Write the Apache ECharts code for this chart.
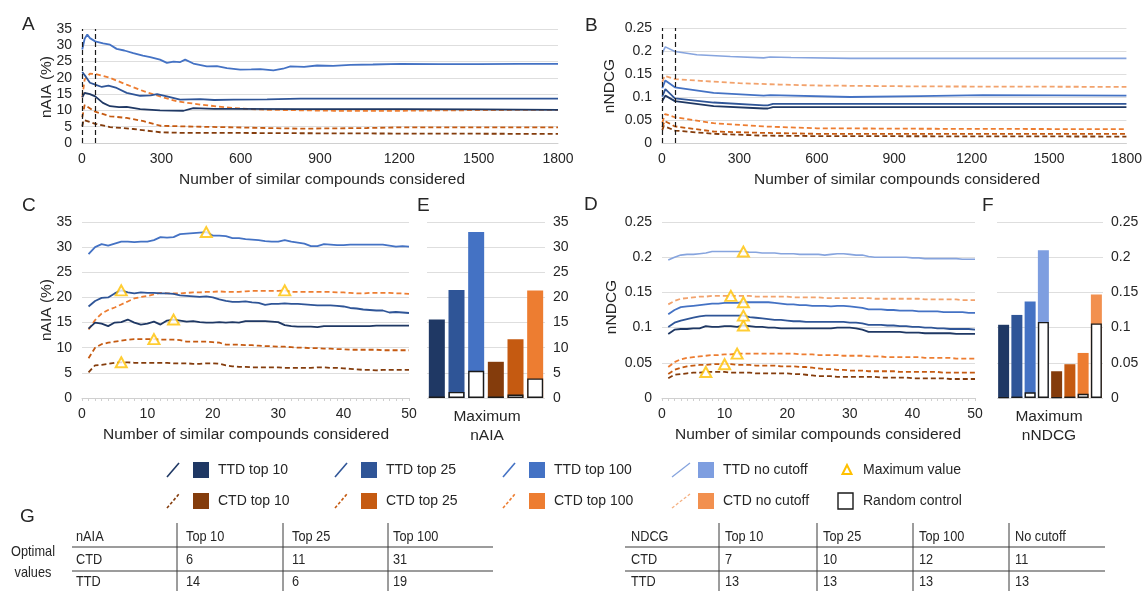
<!DOCTYPE html>
<html><head><meta charset="utf-8">
<script src="https://cdn.jsdelivr.net/npm/echarts@6/dist/echarts.min.js"></script>
<style>html,body{margin:0;padding:0;background:#fff}#c{width:1145px;height:591px}</style>
</head><body><div id="c"></div>
<script>
// ---------------- DATA ----------------
// Panel A: nAIA (%) vs number of similar compounds (0-1800), [x, y] pairs
const aTTD100 = [[1,28.7],[10,32.0],[20,33.3],[30,32.2],[50,31.2],[80,30.6],[106,30.2],[131,28.9],[160,28.4],[194,27.6],[230,26.8],[258,26.4],[295,25.6],[321,24.6],[346,25.0],[370,24.8],[390,25.6],[421,24.4],[472,23.5],[510,23.6],[548,23.0],[598,22.5],[640,22.6],[674,22.7],[724,22.3],[760,22.8],[788,23.5],[840,23.4],[889,23.8],[950,23.7],[1015,24.0],[1100,24.1],[1205,24.3],[1350,24.2],[1500,24.2],[1650,24.3],[1800,24.3]];
const aTTD25 = [[1,21.8],[15,20.3],[30,18.5],[50,17.9],[75,17.2],[100,17.6],[131,16.9],[169,15.4],[220,14.5],[260,14.6],[284,15.0],[321,14.3],[371,13.3],[410,13.4],[447,13.5],[500,13.2],[573,13.3],[700,13.4],[826,13.6],[1000,13.6],[1200,13.6],[1500,13.6],[1800,13.6]];
const aTTD10 = [[1,14.0],[10,15.4],[30,15.0],[50,14.3],[79,12.3],[106,11.3],[140,11.0],[169,11.1],[220,10.4],[295,10.0],[384,9.9],[421,10.7],[500,10.5],[573,10.5],[826,10.4],[1205,10.4],[1500,10.3],[1800,10.2]];
const aCTD100 = [[1,14.0],[10,19.5],[30,21.3],[50,21.2],[106,20.0],[169,17.9],[233,15.9],[295,14.3],[358,12.8],[447,11.8],[573,10.7],[699,10.2],[952,9.9],[1205,9.9],[1500,10.1],[1800,10.2]];
const aCTD25 = [[1,7.9],[10,11.7],[50,9.6],[106,8.2],[169,7.7],[233,6.7],[295,5.3],[384,5.1],[573,4.8],[826,4.4],[1078,4.6],[1205,4.8],[1500,4.8],[1800,4.8]];
const aCTD10 = [[1,5.1],[6,7.1],[50,5.9],[106,4.9],[194,4.3],[295,3.3],[384,3.1],[573,3.1],[826,3.0],[1205,2.9],[1800,2.8]];

// Panel B: nNDCG vs number of similar compounds (0-1800)
const bTTDnc = [[1,0.196],[13,0.209],[50,0.199],[135,0.192],[265,0.188],[394,0.185],[400,0.183],[419,0.187],[500,0.186],[729,0.184],[1000,0.184],[1400,0.184],[1800,0.184]];
const bCTDnc = [[1,0.133],[11,0.146],[50,0.139],[150,0.135],[300,0.130],[457,0.127],[600,0.125],[1000,0.123],[1800,0.122]];
const bTTD100 = [[1,0.119],[13,0.136],[50,0.121],[200,0.109],[394,0.103],[400,0.101],[420,0.104],[729,0.100],[1000,0.102],[1243,0.104],[1800,0.103]];
const bTTD25 = [[1,0.101],[13,0.117],[50,0.097],[200,0.088],[394,0.082],[410,0.082],[430,0.085],[700,0.085],[1000,0.085],[1800,0.085]];
const bTTD10 = [[1,0.091],[13,0.103],[50,0.091],[200,0.080],[394,0.075],[410,0.075],[430,0.078],[700,0.078],[1000,0.078],[1800,0.078]];
const bCTD100 = [[1,0.044],[12,0.063],[50,0.056],[200,0.043],[394,0.036],[600,0.032],[1000,0.031],[1800,0.030]];
const bCTD25 = [[1,0.034],[10,0.048],[50,0.036],[200,0.025],[394,0.022],[600,0.020],[1800,0.020]];
const bCTD10 = [[1,0.028],[7,0.037],[50,0.027],[200,0.020],[394,0.016],[600,0.015],[1800,0.014]];
const dashedMarks = [1, 50];

// Panels C and D: first 50 similar compounds
const steps = [1,2,3,4,5,6,7,8,9,10,11,12,13,14,15,16,17,18,19,20,21,22,23,24,25,26,27,28,29,30,31,32,33,34,35,36,37,38,39,40,41,42,43,44,45,46,47,48,49,50];
const cTTD100 = [28.6,30.0,30.6,30.3,30.7,31.1,31.1,31.0,31.1,31.1,31.4,32.0,31.9,32.0,32.6,32.7,32.8,32.9,33.0,32.3,32.3,32.2,31.8,31.8,31.6,31.5,31.4,31.2,31.1,31.1,31.4,31.1,30.9,30.7,30.2,30.2,30.6,30.5,30.4,30.4,30.5,30.5,30.5,30.5,30.5,30.5,30.3,30.1,30.2,30.1];
const cTTD25 = [18.2,19.3,19.9,20.0,20.8,21.4,21.0,20.8,21.0,20.9,20.9,20.8,20.8,20.7,20.4,20.3,20.2,20.1,20.2,20.0,19.6,19.3,19.1,19.1,19.2,19.0,18.9,18.5,18.7,18.7,18.8,18.7,18.7,18.6,18.5,18.4,18.4,18.4,18.3,18.2,17.9,17.8,17.6,17.5,17.4,17.4,17.0,17.1,17.0,16.9];
const cTTD10 = [13.8,15.0,14.8,14.3,15.0,15.1,15.6,15.0,14.6,14.8,15.2,14.6,15.4,15.6,15.4,15.2,15.3,15.1,15.0,15.0,15.1,15.0,15.1,15.0,15.3,15.3,15.3,15.3,15.2,15.1,14.5,14.3,14.2,14.2,14.2,14.1,14.3,14.3,14.3,14.3,14.3,14.3,14.3,14.3,14.4,14.4,14.4,14.4,14.4,14.4];
const cCTD100 = [13.6,15.5,16.8,17.5,18.0,18.6,19.2,19.8,20.1,20.3,20.6,20.9,20.8,20.8,20.8,20.9,21.0,21.0,21.1,21.1,21.2,21.1,21.1,21.1,21.2,21.3,21.3,21.3,21.3,21.3,21.4,21.1,21.1,21.1,21.1,21.1,21.1,21.1,21.0,21.0,20.9,20.8,20.8,20.9,20.9,20.9,20.9,20.8,20.8,20.7];
const cCTD25 = [7.9,10.0,10.7,11.0,11.2,11.4,11.6,11.7,11.7,11.7,11.7,11.6,11.6,11.6,11.5,11.2,11.2,11.2,11.2,11.1,11.0,10.6,10.6,10.6,10.5,10.5,10.4,10.3,10.3,10.2,10.2,10.1,10.0,10.0,9.9,9.9,9.8,9.8,9.7,9.7,9.6,9.6,9.6,9.6,9.6,9.5,9.5,9.5,9.5,9.5];
const cCTD10 = [5.1,6.5,6.6,6.8,7.0,7.1,7.1,7.0,7.0,7.0,7.0,7.0,7.0,6.9,6.9,6.9,6.8,6.8,6.9,6.9,6.8,6.5,6.3,6.2,6.2,6.1,6.1,6.1,6.1,6.1,6.0,6.0,6.0,6.0,6.0,6.1,6.1,6.0,6.0,5.9,5.8,5.7,5.6,5.6,5.5,5.6,5.6,5.6,5.6,5.6];
const cMaxima = [[14,15.6],[6,21.4],[19,33.0],[6,7.1],[11,11.7],[31,21.4]];

const dTTDnc = [0.196,0.200,0.203,0.204,0.204,0.205,0.206,0.208,0.208,0.208,0.208,0.208,0.208,0.207,0.207,0.206,0.206,0.206,0.205,0.205,0.205,0.204,0.204,0.204,0.204,0.203,0.204,0.205,0.205,0.204,0.203,0.203,0.201,0.200,0.200,0.200,0.200,0.200,0.200,0.199,0.199,0.198,0.198,0.198,0.198,0.198,0.198,0.197,0.197,0.197];
const dCTDnc = [0.133,0.138,0.141,0.142,0.143,0.144,0.144,0.145,0.145,0.145,0.145,0.145,0.145,0.145,0.144,0.144,0.144,0.144,0.144,0.144,0.143,0.143,0.143,0.143,0.143,0.142,0.142,0.142,0.142,0.142,0.142,0.142,0.142,0.141,0.141,0.141,0.141,0.141,0.141,0.141,0.141,0.140,0.140,0.140,0.140,0.140,0.140,0.139,0.139,0.139];
const dTTD100 = [0.119,0.125,0.129,0.130,0.131,0.132,0.133,0.134,0.134,0.135,0.135,0.135,0.136,0.136,0.136,0.136,0.136,0.135,0.134,0.133,0.133,0.132,0.132,0.131,0.131,0.131,0.130,0.131,0.131,0.130,0.129,0.128,0.126,0.126,0.126,0.125,0.125,0.124,0.124,0.124,0.123,0.123,0.123,0.123,0.122,0.122,0.122,0.122,0.121,0.121];
const dTTD25 = [0.101,0.107,0.110,0.112,0.114,0.116,0.117,0.117,0.117,0.117,0.117,0.117,0.117,0.115,0.114,0.113,0.112,0.111,0.111,0.110,0.109,0.109,0.108,0.108,0.108,0.108,0.108,0.108,0.108,0.107,0.107,0.106,0.104,0.104,0.104,0.103,0.103,0.102,0.102,0.101,0.101,0.100,0.100,0.099,0.099,0.098,0.098,0.098,0.098,0.097];
const dTTD10 = [0.091,0.097,0.098,0.098,0.099,0.099,0.102,0.101,0.101,0.102,0.102,0.101,0.103,0.102,0.101,0.101,0.100,0.100,0.099,0.099,0.099,0.099,0.099,0.099,0.099,0.099,0.099,0.100,0.100,0.100,0.099,0.097,0.094,0.094,0.094,0.094,0.094,0.094,0.093,0.093,0.093,0.092,0.092,0.092,0.092,0.092,0.091,0.091,0.091,0.091];
const dCTD100 = [0.044,0.051,0.055,0.057,0.058,0.059,0.060,0.061,0.061,0.062,0.062,0.063,0.063,0.063,0.063,0.063,0.063,0.063,0.063,0.063,0.063,0.062,0.062,0.062,0.061,0.061,0.061,0.061,0.060,0.060,0.060,0.060,0.059,0.059,0.059,0.058,0.058,0.058,0.058,0.058,0.058,0.057,0.057,0.057,0.057,0.057,0.056,0.056,0.056,0.056];
const dCTD25 = [0.034,0.040,0.043,0.045,0.046,0.047,0.047,0.048,0.048,0.048,0.048,0.047,0.047,0.047,0.046,0.046,0.046,0.046,0.045,0.045,0.045,0.044,0.044,0.043,0.042,0.041,0.041,0.040,0.040,0.039,0.039,0.039,0.038,0.038,0.038,0.038,0.038,0.037,0.037,0.037,0.037,0.037,0.037,0.037,0.036,0.036,0.036,0.036,0.036,0.036];
const dCTD10 = [0.028,0.033,0.034,0.035,0.036,0.036,0.037,0.037,0.037,0.037,0.036,0.036,0.036,0.036,0.035,0.035,0.035,0.035,0.035,0.035,0.034,0.034,0.033,0.032,0.031,0.031,0.031,0.030,0.030,0.030,0.030,0.030,0.030,0.030,0.029,0.029,0.029,0.029,0.029,0.028,0.028,0.028,0.028,0.028,0.028,0.027,0.027,0.027,0.027,0.027];
const dMaxima = [[13,0.103],[13,0.117],[13,0.136],[13,0.208],[7,0.037],[10,0.048],[12,0.063],[11,0.145]];

// Panels E and F: maximum values and random controls
const eCategories = ['TTD top 10','TTD top 25','TTD top 100','CTD top 10','CTD top 25','CTD top 100'];
const eMax = [15.6, 21.5, 33.0, 7.2, 11.7, 21.4];
const eRandom = [0.3, 1.2, 5.4, 0.3, 0.7, 3.9];
const fCategories = ['TTD top 10','TTD top 25','TTD top 100','TTD no cutoff','CTD top 10','CTD top 25','CTD top 100','CTD no cutoff'];
const fMax = [0.104, 0.118, 0.137, 0.210, 0.038, 0.048, 0.064, 0.147];
const fRandom = [0.001, 0.002, 0.008, 0.108, 0.001, 0.002, 0.006, 0.106];

// Axis ticks
const ticksA = {min:0, max:1800, interval:300};
const ticksCD = {min:0, max:50, interval:10};
const ticksAIA = {min:0, max:35, interval:5};
const ticksNDCG = {min:0, max:0.25, interval:0.05};

// Table G
const tableAIAHead = ['nAIA','Top 10','Top 25','Top 100'];
const tableAIACTD = ['CTD','6','11','31'];
const tableAIATTD = ['TTD','14','6','19'];
const tableNDCGHead = ['NDCG','Top 10','Top 25','Top 100','No cutoff'];
const tableNDCGCTD = ['CTD','7','10','12','11'];
const tableNDCGTTD = ['TTD','13','13','13','13'];

// ---------------- STYLES ----------------
const LINECOL = {TTD10:'#1F3864', TTD25:'#2F5597', TTD100:'#4472C4', TTDnc:'#86A4DE', CTD10:'#843C0C', CTD25:'#C55A11', CTD100:'#ED7D31', CTDnc:'#F2A26C'};
const BARCOL = {'TTD top 10':'#1F3864','TTD top 25':'#2F5597','TTD top 100':'#4472C4','TTD no cutoff':'#7E9EE0','CTD top 10':'#843C0C','CTD top 25':'#C55A11','CTD top 100':'#ED7D31','CTD no cutoff':'#F2904F'};
const FONT = '"Liberation Sans", Arial, sans-serif';
const TXT = '#262626';
const GRIDC = '#DEDEDE';
const YEL = '#FFC000';

const grids = [
  {left:82, top:29, width:476, height:114},
  {left:662, top:28, width:467, height:115},
  {left:82, top:222, width:327, height:176},
  {left:427, top:222, width:118, height:176},
  {left:662, top:222, width:313, height:176},
  {left:997, top:222, width:106, height:176}
];

function xVal(t, grid, minor){
  return {type:'value', gridIndex:grid, min:t.min, max:t.max, interval:t.interval,
    axisLine:{show:true, lineStyle:{color:'#D0D0D0', width:1}},
    axisTick:{show:!!minor, length:3, lineStyle:{color:'#D0D0D0'}},
    minorTick:{show:!!minor, splitNumber:10, length:3, lineStyle:{color:'#D0D0D0'}},
    splitLine:{show:false},
    axisLabel:{color:TXT, fontSize:14, fontFamily:FONT, margin:9, formatter: v => String(v)}};
}
function yVal(t, grid, pos){
  return {type:'value', gridIndex:grid, min:t.min, max:t.max, interval:t.interval, position:pos||'left',
    axisLine:{show:false}, axisTick:{show:false},
    splitLine:{show:true, lineStyle:{color:GRIDC, width:1}},
    axisLabel:{color:TXT, fontSize:14, fontFamily:FONT, margin: pos==='right'?8:10}};
}
function xCat(cats, grid){
  return {type:'category', gridIndex:grid, data:cats, axisLine:{show:false}, axisTick:{show:false}, axisLabel:{show:false}, splitLine:{show:false}};
}

const series = [];
function addLine(data, grid, color, dashed, width, z){
  series.push({type:'line', xAxisIndex:grid, yAxisIndex:grid, data:data, symbol:'none', silent:true, animation:false, z:z||2,
    lineStyle:{color:color, width:width, type: dashed ? [5,3] : 'solid'}});
}
function pairs(vals){ return vals.map((v,i)=>[steps[i], v]); }

// A
addLine(aCTD10,0,LINECOL.CTD10,true,1.8);
addLine(aCTD25,0,LINECOL.CTD25,true,1.8);
addLine(aCTD100,0,LINECOL.CTD100,true,1.8);
addLine(aTTD10,0,LINECOL.TTD10,false,1.8);
addLine(aTTD25,0,LINECOL.TTD25,false,1.8);
addLine(aTTD100,0,LINECOL.TTD100,false,1.8);
// B
addLine(bCTD10,1,LINECOL.CTD10,true,1.8);
addLine(bCTD25,1,LINECOL.CTD25,true,1.8);
addLine(bCTD100,1,LINECOL.CTD100,true,1.8);
addLine(bCTDnc,1,LINECOL.CTDnc,true,1.8);
addLine(bTTD10,1,LINECOL.TTD10,false,1.8);
addLine(bTTD25,1,LINECOL.TTD25,false,1.8);
addLine(bTTD100,1,LINECOL.TTD100,false,1.8);
addLine(bTTDnc,1,LINECOL.TTDnc,false,1.6);
// dashed marker lines in A and B
[0,1].forEach(g=>{
  series.push({type:'line', xAxisIndex:g, yAxisIndex:g, data:[], silent:true, animation:false, z:5,
    markLine:{silent:true, symbol:['none','none'], label:{show:false}, animation:false,
      lineStyle:{color:'#1a1a1a', width:1.2, type:[5,3]},
      data: dashedMarks.map(v=>({xAxis:v}))}});
});
// C
addLine(pairs(cCTD10),2,LINECOL.CTD10,true,1.8);
addLine(pairs(cCTD25),2,LINECOL.CTD25,true,1.8);
addLine(pairs(cCTD100),2,LINECOL.CTD100,true,1.8);
addLine(pairs(cTTD10),2,LINECOL.TTD10,false,1.8);
addLine(pairs(cTTD25),2,LINECOL.TTD25,false,1.8);
addLine(pairs(cTTD100),2,LINECOL.TTD100,false,1.8);
// D
addLine(pairs(dCTD10),4,LINECOL.CTD10,true,1.8);
addLine(pairs(dCTD25),4,LINECOL.CTD25,true,1.8);
addLine(pairs(dCTD100),4,LINECOL.CTD100,true,1.8);
addLine(pairs(dCTDnc),4,LINECOL.CTDnc,true,1.8);
addLine(pairs(dTTD10),4,LINECOL.TTD10,false,1.8);
addLine(pairs(dTTD25),4,LINECOL.TTD25,false,1.8);
addLine(pairs(dTTD100),4,LINECOL.TTD100,false,1.8);
addLine(pairs(dTTDnc),4,LINECOL.TTDnc,false,1.6);
// maxima triangles
[[2,cMaxima],[4,dMaxima]].forEach(([g,d])=>{
  series.push({type:'scatter', xAxisIndex:g, yAxisIndex:g, data:d, symbol:'triangle', symbolSize:[11,10], silent:true, animation:false, z:10,
    itemStyle:{color:'#ffffff', borderColor:YEL, borderWidth:2}});
});
// E and F bars
[[3,eCategories,eMax,eRandom,16],[5,fCategories,fMax,fRandom,11]].forEach(([g,cats,mx,rnd,bw])=>{
  series.push({type:'bar', xAxisIndex:g, yAxisIndex:g, barWidth:bw, silent:true, animation:false, z:3,
    data: mx.map((v,i)=>({value:v, itemStyle:{color:BARCOL[cats[i]]}}))});
  series.push({type:'bar', xAxisIndex:g, yAxisIndex:g, barWidth:bw, barGap:'-100%', silent:true, animation:false, z:4,
    itemStyle:{color:'#ffffff', borderColor:'#1a1a1a', borderWidth:1.4}, data: rnd});
});

// ---------------- GRAPHIC (titles, legend, table) ----------------
const G = [];
function txt(x,y,text,o){
  o = o||{};
  G.push({type:'text', x:x, y:y, rotation:o.rot||0, scaleX:o.sx||1, silent:true, z:50,
    style:{text:text, font:(o.size||15)+'px '+FONT, fill:o.fill||TXT,
      align:o.align||'left', textAlign:o.align||'left', verticalAlign:'middle', textVerticalAlign:'middle'}});
}
function ln(x1,y1,x2,y2,color,w,dash){
  G.push({type:'line', silent:true, z:50, shape:{x1:x1,y1:y1,x2:x2,y2:y2}, style:{stroke:color, lineWidth:w, lineDash:dash||null}});
}
function rect(x,y,w,h,fill,stroke){
  G.push({type:'rect', silent:true, z:50, shape:{x:x,y:y,width:w,height:h}, style:{fill:fill, stroke:stroke||null, lineWidth:stroke?1.4:0}});
}
// panel letters
[['A',22,25],['B',585,26],['C',22,206],['E',417,206],['D',584,205],['F',982,206],['G',20,517]].forEach(([t,x,y])=>txt(x,y,t,{size:19}));
// axis titles
const XT = 'Number of similar compounds considered';
txt(322,180,XT,{align:'center',size:15.5});
txt(897,180,XT,{align:'center',size:15.5});
txt(246,435,XT,{align:'center',size:15.5});
txt(818,435,XT,{align:'center',size:15.5});
txt(47,87,'nAIA (%)',{align:'center',size:15.5,rot:Math.PI/2});
txt(47,310,'nAIA (%)',{align:'center',size:15.5,rot:Math.PI/2});
txt(610,86,'nNDCG',{align:'center',size:15.5,rot:Math.PI/2});
txt(612,307,'nNDCG',{align:'center',size:15.5,rot:Math.PI/2});
txt(487,417,'Maximum',{align:'center',size:15.5});
txt(487,436,'nAIA',{align:'center',size:15.5});
txt(1049,417,'Maximum',{align:'center',size:15.5});
txt(1049,436,'nNDCG',{align:'center',size:15.5});
// legend
const legendSpec = [
  ['TTD top 10',167,false,LINECOL.TTD10,470],['TTD top 25',335,false,LINECOL.TTD25,470],['TTD top 100',503,false,LINECOL.TTD100,470],
  ['CTD top 10',167,true,LINECOL.CTD10,501],['CTD top 25',335,true,LINECOL.CTD25,501],['CTD top 100',503,true,LINECOL.CTD100,501]
];
legendSpec.forEach(([name,x,dash,lc,y])=>{
  ln(x,y+7,x+12,y-7,lc,1.6,dash?[3,2]:null);
  rect(x+26,y-8,16,16,BARCOL[name]);
  txt(x+51,y,name,{size:14});
});
ln(672,477,690,463,LINECOL.TTDnc,1.3,null);
rect(698,462,16,16,BARCOL['TTD no cutoff']);
txt(723,470,'TTD no cutoff',{size:14});
ln(672,508,690,494,'#F4B183',1.3,[3,2]);
rect(698,493,16,16,BARCOL['CTD no cutoff']);
txt(723,501,'CTD no cutoff',{size:14});
G.push({type:'polygon', silent:true, z:50, shape:{points:[[847,465],[842.5,474],[851.5,474]]}, style:{fill:'#fff', stroke:YEL, lineWidth:2}});
txt(863,470,'Maximum value',{size:14});
rect(838,493,15,16,'#fff','#1a1a1a');
txt(863,501,'Random control',{size:14});
// table G
txt(33,552,'Optimal',{align:'center',size:15,sx:0.85});
txt(33,573,'values',{align:'center',size:15,sx:0.85});
const TL = '#3a3a3a';
function table(x0,x1,dividers,textX,rows){
  ln(x0,547,x1,547,TL,1.2);
  ln(x0,571,x1,571,TL,1.2);
  dividers.forEach(d=>ln(d,523,d,591,TL,1));
  const ys=[537,560,582];
  rows.forEach((r,ri)=>r.forEach((t,ci)=>txt(textX[ci],ys[ri],t,{size:15,sx:0.85})));
}
table(72,493,[177,283,388],[76,186,292,393],[tableAIAHead,tableAIACTD,tableAIATTD]);
table(625,1105,[719,817,913,1009],[631,725,823,919,1015],[tableNDCGHead,tableNDCGCTD,tableNDCGTTD]);

const option = {
  animation:false,
  backgroundColor:'#ffffff',
  grid: grids,
  xAxis: [xVal(ticksA,0,false), xVal(ticksA,1,false), xVal(ticksCD,2,true), xCat(eCategories,3), xVal(ticksCD,4,true), xCat(fCategories,5)],
  yAxis: [yVal(ticksAIA,0), yVal(ticksNDCG,1), yVal(ticksAIA,2), yVal(ticksAIA,3,'right'), yVal(ticksNDCG,4), yVal(ticksNDCG,5,'right')],
  series: series,
  graphic: {elements: G}
};
const chart = echarts.init(document.getElementById('c'), null, {renderer:'canvas'});
chart.setOption(option);
</script></body></html>
